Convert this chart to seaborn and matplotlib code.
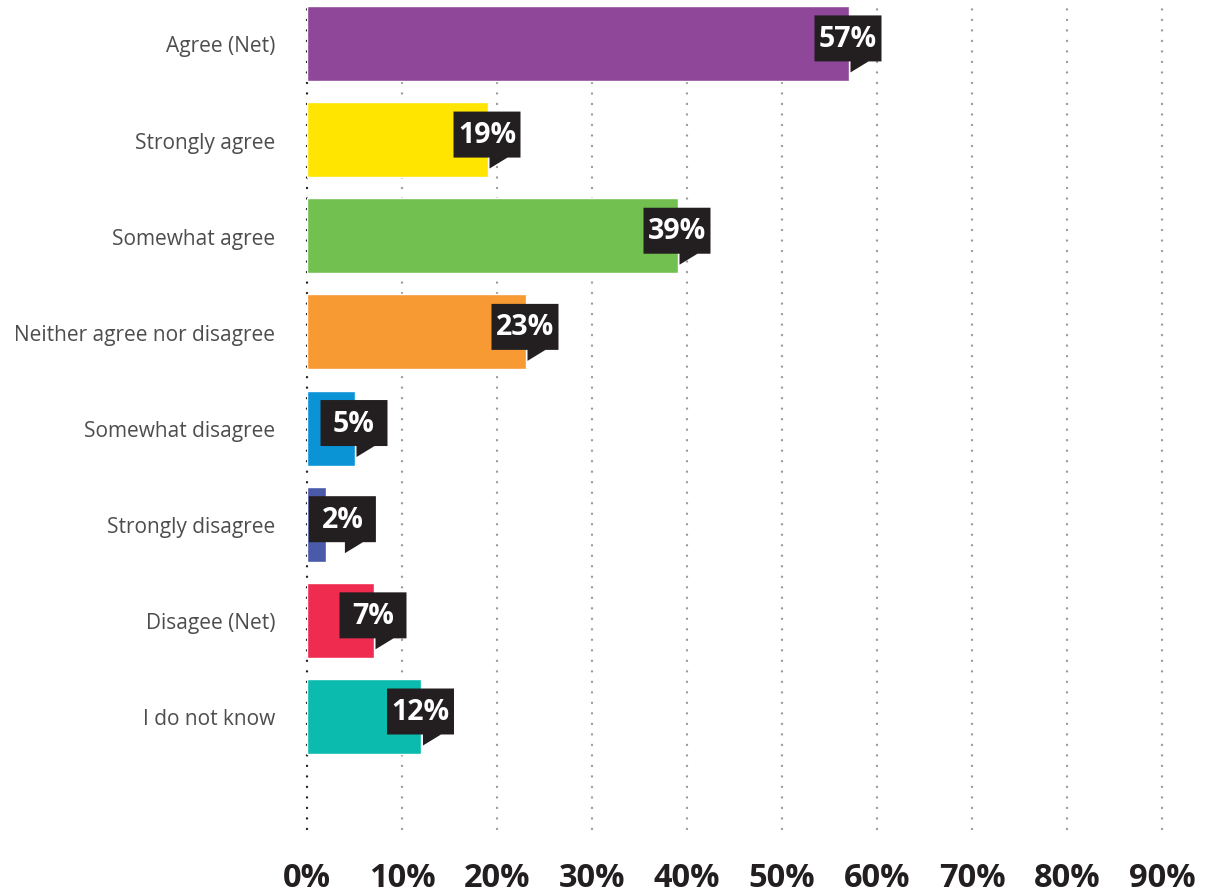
import matplotlib
matplotlib.use("Agg")
import matplotlib.pyplot as plt
from matplotlib.patches import Polygon
import seaborn as sns
import pandas as pd

categories = [
    "Agree (Net)",
    "Strongly agree",
    "Somewhat agree",
    "Neither agree nor disagree",
    "Somewhat disagree",
    "Strongly disagree",
    "Disagee (Net)",
    "I do not know",
]
values = [57, 19, 39, 23, 5, 2, 7, 12]
colors = ["#8f4799", "#ffe500", "#72c150", "#f79a33",
          "#0a94d6", "#4a5aa8", "#ef2b50", "#0bbbad"]
xticks = list(range(0, 100, 10))

sns.set_theme(style="white")
plt.rcParams["font.family"] = ["Open Sans", "DejaVu Sans"]

df = pd.DataFrame({"category": categories, "value": values})

fig = plt.figure(figsize=(12.07, 8.95), dpi=100)
W, H = 1207, 895
Y_TOP, Y_BOT = -0.41, 8.17
ax = fig.add_axes([307 / W, (H - 830) / H, (1162 + 4.75 - 307) / W, 825 / H])

sns.barplot(data=df, x="value", y="category", hue="category",
            palette=colors, legend=False, width=0.78, orient="h",
            saturation=1, ax=ax, zorder=2)

ax.set_xlim(0, 90.5)
ax.set_ylim(Y_BOT, Y_TOP)

# dotted vertical gridlines
for t in xticks:
    ax.axvline(t, color="#231f20" if t == 0 else "#9a9a9a",
               linewidth=1.7, linestyle=(0, (0.05, 4.4)),
               dash_capstyle="round", zorder=1, clip_on=False)

ax.set_xticks(xticks)
ax.set_xticklabels([f"{t}%" for t in xticks], fontsize=23.5,
                   fontweight="bold", color="#231f20")
ax.tick_params(axis="x", length=0, pad=23)
ax.tick_params(axis="y", length=0, pad=23, labelsize=15, labelcolor="#4d4d4d")
ax.set_xlabel("")
ax.set_ylabel("")
for s in ax.spines.values():
    s.set_visible(False)

# callout labels
px_x = 855 / 90.0                 # pixels per percent
px_y = 825 / (Y_BOT - Y_TOP)      # pixels per category unit
box_w = 67 / px_x
box_h = 46 / px_y
off_r = 33 / px_x
tail_in = 31 / px_x
tail_w = 18 / px_x
tail_h = 11 / px_y
for i, v in enumerate(values):
    right = max(v + off_r, 0.2 + box_w)
    left = right - box_w
    yc = i - 5 / px_y
    top, bot = yc - box_h / 2, yc + box_h / 2
    tl = right - tail_in
    pts = [(left, top), (right, top), (right, bot), (tl + tail_w, bot),
           (tl, bot + tail_h), (tl, bot), (left, bot)]
    ax.add_patch(Polygon(pts, closed=True, facecolor="#231f20",
                         edgecolor="none", zorder=4, clip_on=False))
    ax.text((left + right) / 2, yc, f"{v}%", ha="center", va="center",
            color="white", fontsize=20.5, fontweight="bold", zorder=5)

fig.savefig("out.png", dpi=100)
